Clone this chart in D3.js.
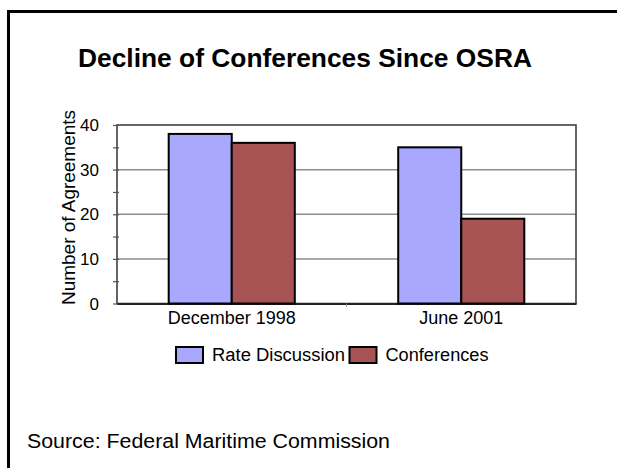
<!DOCTYPE html>
<html><head><meta charset="utf-8">
<script src="https://cdn.jsdelivr.net/npm/d3@7"></script>
<style>body{margin:0;background:#fff}svg{display:block}</style>
</head><body>
<script>
const categories = ["December 1998", "June 2001"];
const seriesNames = ["Rate Discussion", "Conferences"];
const rateDiscussion = [38, 35];
const conferences = [36, 19];
const yTicks = [0, 10, 20, 30, 40];
const colors = ["#a8a8ff", "#a85353"];
const title = "Decline of Conferences Since OSRA";
const yTitle = "Number of Agreements";
const source = "Source: Federal Maritime Commission";

const W = 617, H = 468;
const svg = d3.select("body").append("svg").attr("width", W).attr("height", H);
const font = "Arial, 'Liberation Sans', sans-serif";

// outer frame (cropped on right/bottom)
svg.append("rect").attr("x", 8.5).attr("y", 11.5).attr("width", 700).attr("height", 600)
  .attr("fill", "none").attr("stroke", "#000").attr("stroke-width", 3);

const L = 117, R = 576, T = 125, B = 303.5;
const x = d3.scaleBand().domain(categories).range([L, R]).padding(0);
const xs = d3.scaleBand().domain(seriesNames).range([0, x.bandwidth()]).paddingInner(0).paddingOuter(0.82);
const y = d3.scaleLinear().domain([0, 40]).range([B, T]);

// gridlines
svg.append("g").selectAll("line").data(yTicks.filter(d => d > 0 && d < 40)).join("line")
  .attr("x1", L).attr("x2", R).attr("y1", d => y(d)).attr("y2", d => y(d))
  .attr("stroke", "#8e8e8e").attr("stroke-width", 1.5);

// plot frame
svg.append("rect").attr("x", L).attr("y", T).attr("width", R - L).attr("height", B - T)
  .attr("fill", "none").attr("stroke", "#333").attr("stroke-width", 1.5);

// y axis with minor ticks
const yAxis = d3.axisLeft(y).tickValues(d3.range(0, 41, 5)).tickSize(6).tickFormat("");
const gy = svg.append("g").attr("transform", `translate(${L + 2},0)`).call(yAxis);
gy.select(".domain").remove();
gy.selectAll(".tick line").attr("stroke", "#555").attr("stroke-width", 1.2);
svg.append("g").selectAll("text").data(yTicks).join("text")
  .attr("x", 99).attr("y", d => y(d)).attr("dy", "0.36em").attr("text-anchor", "end")
  .attr("font-family", font).attr("font-size", 17).attr("fill", "#000").text(d => d);

// x ticks
const gx = svg.append("g").attr("transform", `translate(0,${B})`)
  .call(d3.axisBottom(x).tickSize(0).tickFormat(""));
gx.select(".domain").attr("stroke", "#222").attr("stroke-width", 2);
svg.append("g").selectAll("line").data([L + x.step()]).join("line")
  .attr("x1", d => d).attr("x2", d => d).attr("y1", B).attr("y2", B + 3)
  .attr("stroke", "#888");

// bars
const data = categories.map((c, i) => ({ c, vals: [rateDiscussion[i], conferences[i]] }));
const groups = svg.append("g").selectAll("g").data(data).join("g")
  .attr("transform", d => `translate(${x(d.c)},0)`);
groups.selectAll("rect").data(d => d.vals.map((v, j) => ({ v, s: seriesNames[j], j }))).join("rect")
  .attr("x", d => xs(d.s)).attr("width", xs.bandwidth())
  .attr("y", d => y(d.v)).attr("height", d => y(0) - y(d.v))
  .attr("fill", d => colors[d.j]).attr("stroke", "#000").attr("stroke-width", 2);

// category labels
svg.append("g").selectAll("text").data(categories).join("text")
  .attr("x", d => x(d) + x.bandwidth() / 2).attr("y", 324).attr("text-anchor", "middle")
  .attr("font-family", font).attr("font-size", 18).attr("fill", "#000").text(d => d);

// y title
svg.append("text").attr("transform", "translate(75,207.5) rotate(-90)")
  .attr("text-anchor", "middle").attr("font-family", font).attr("font-size", 18)
  .attr("textLength", 195).attr("lengthAdjust", "spacingAndGlyphs").text(yTitle);

// title
svg.append("text").attr("x", 78).attr("y", 66.5).attr("font-family", font)
  .attr("font-weight", "bold").attr("font-size", 25).attr("textLength", 454)
  .attr("lengthAdjust", "spacingAndGlyphs").text(title);

// legend
const legX = [176, 349.5], legTextLen = [133, 103];
const leg = svg.append("g").selectAll("g").data(seriesNames).join("g");
leg.append("rect").attr("x", (d, i) => legX[i]).attr("y", 347).attr("width", 27).attr("height", 16)
  .attr("fill", (d, i) => colors[i]).attr("stroke", "#000").attr("stroke-width", 2);
leg.append("text").attr("x", (d, i) => legX[i] + 36).attr("y", 361)
  .attr("font-family", font).attr("font-size", 18)
  .attr("textLength", (d, i) => legTextLen[i]).attr("lengthAdjust", "spacingAndGlyphs").text(d => d);

// source
svg.append("text").attr("x", 27).attr("y", 447.5).attr("font-family", font).attr("font-size", 20)
  .attr("textLength", 363).attr("lengthAdjust", "spacingAndGlyphs").text(source);
</script>
</body></html>
